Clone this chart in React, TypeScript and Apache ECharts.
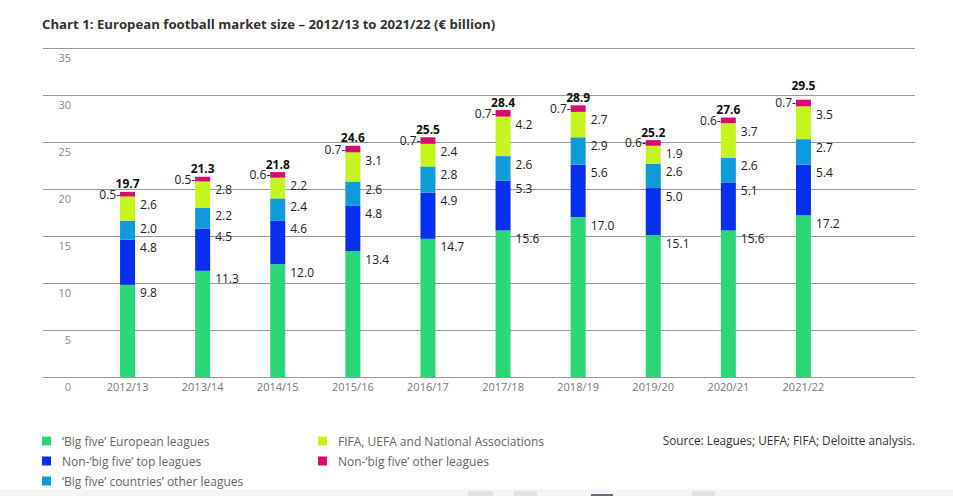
import React, { useEffect, useRef } from "react";
import * as echarts from "echarts";

const categories = ["2012/13", "2013/14", "2014/15", "2015/16", "2016/17", "2017/18", "2018/19", "2019/20", "2020/21", "2021/22"];
const bigFive = [9.8, 11.3, 12.0, 13.4, 14.7, 15.6, 17.0, 15.1, 15.6, 17.2];
const nonBigFiveTop = [4.8, 4.5, 4.6, 4.8, 4.9, 5.3, 5.6, 5.0, 5.1, 5.4];
const bigFiveOther = [2.0, 2.2, 2.4, 2.6, 2.8, 2.6, 2.9, 2.6, 2.6, 2.7];
const fifaUefa = [2.6, 2.8, 2.2, 3.1, 2.4, 4.2, 2.7, 1.9, 3.7, 3.5];
const nonBigFiveOther = [0.5, 0.5, 0.6, 0.7, 0.7, 0.7, 0.7, 0.6, 0.6, 0.7];
const totals = [19.7, 21.3, 21.8, 24.6, 25.5, 28.4, 28.9, 25.2, 27.6, 29.5];
const yMax = 35;
const yInterval = 5;

const seriesNames = [
  "\u2018Big five\u2019 European leagues",
  "Non-\u2018big five\u2019 top leagues",
  "\u2018Big five\u2019 countries\u2019 other leagues",
  "FIFA, UEFA and National Associations",
  "Non-\u2018big five\u2019 other leagues",
];
const colors = ["#2bd677", "#0630ee", "#0f9ad9", "#c6f41f", "#d80a70"];

const FONT = "'Open Sans', sans-serif";

export default function App() {
  const ref = useRef<HTMLDivElement>(null);
  useEffect(() => {
    if (!ref.current) return;
    const chart = echarts.init(ref.current, null, { renderer: "svg" });
    const values = [bigFive, nonBigFiveTop, bigFiveOther, fifaUefa, nonBigFiveOther];
    const segLabel = {
      show: true,
      position: [20, 2],
      align: "left",
      verticalAlign: "top",
      fontFamily: FONT,
      fontSize: 12,
      color: "#222",
      formatter: (p: any) => Number(p.value).toFixed(1),
    };
    const series: any[] = values.map((arr, i) => ({
      name: seriesNames[i],
      type: "bar",
      stack: "total",
      xAxisIndex: 1,
      yAxisIndex: 1,
      barWidth: 15,
      data: arr,
      itemStyle: { color: colors[i] },
      label:
        i === 4
          ? {
              show: true,
              position: "left",
              distance: 0,
              fontFamily: FONT,
              fontSize: 12,
              color: "#222",
              formatter: (p: any) => Number(p.value).toFixed(1) + "-",
            }
          : segLabel,
    }));
    series.push({
      name: "total",
      type: "bar",
      stack: "total",
      xAxisIndex: 1,
      yAxisIndex: 1,
      barWidth: 15,
      data: totals.map((_, i) => (i === totals.length - 1 ? { value: 0, label: { offset: [0, -6] } } : 0)),
      itemStyle: { color: "transparent" },
      label: {
        show: true,
        position: "top",
        distance: 2,
        fontFamily: FONT,
        fontSize: 12,
        fontWeight: "bold",
        color: "#111",
        formatter: (p: any) => totals[p.dataIndex].toFixed(1),
      },
    });

    const legendBase = {
      orient: "vertical",
      padding: 0,
      height: 70,
      itemWidth: 9,
      itemHeight: 9,
      itemGap: 8,
      icon: "rect",
      textStyle: { fontFamily: FONT, fontSize: 12, lineHeight: 12, color: "#666", padding: [0, 0, 0, 6] },
    };

    chart.setOption({
      animation: false,
      textStyle: { fontFamily: FONT },
      title: {
        text: "Chart 1: European football market size \u2013 2012/13 to 2021/22 (\u20ac billion)",
        left: 37,
        top: 12,
        textStyle: { fontFamily: FONT, fontSize: 13.2, fontWeight: "bold", color: "#333" },
      },
      grid: [
        { left: 43, right: 38, top: 48, bottom: 119 },
        { left: 90, right: 112, top: 48, bottom: 119 },
      ],
      xAxis: [
        { type: "value", gridIndex: 0, show: false },
        {
          type: "category",
          gridIndex: 1,
          data: categories,
          axisLine: { show: false },
          axisTick: { show: false },
          axisLabel: { fontFamily: FONT, fontSize: 11, color: "#777", margin: 4 },
        },
      ],
      yAxis: [
        {
          type: "value",
          gridIndex: 0,
          min: 0,
          max: yMax,
          interval: yInterval,
          axisLine: { show: false },
          axisTick: { show: false },
          splitLine: { lineStyle: { color: "#999", width: 1 } },
          axisLabel: {
            fontFamily: FONT,
            fontSize: 11,
            color: "#888",
            align: "right",
            verticalAlign: "top",
            margin: -28,
            padding: [4, 0, 0, 0],
          },
        },
        { type: "value", gridIndex: 1, min: 0, max: yMax, interval: yInterval, show: false },
      ],
      legend: [
        { ...legendBase, left: 42, top: 435, data: seriesNames.slice(0, 3) },
        { ...legendBase, left: 318, top: 435, data: seriesNames.slice(3, 5) },
      ],
      graphic: [
        {
          type: "text",
          right: 38,
          top: 434,
          style: { text: "Source: Leagues; UEFA; FIFA; Deloitte analysis.", fontFamily: FONT, fontSize: 11.8, fill: "#333" },
        },
        { type: "rect", left: 0, top: 489, shape: { width: 953, height: 7 }, style: { fill: "#f5f5f7" } },
        { type: "rect", left: 468, top: 491, shape: { width: 25, height: 5 }, style: { fill: "#e2e2e6" } },
        { type: "rect", left: 514, top: 491, shape: { width: 23, height: 5 }, style: { fill: "#e2e2e6" } },
        { type: "rect", left: 591, top: 494, shape: { width: 22, height: 2 }, style: { fill: "#6a6a78" } },
        { type: "rect", left: 692, top: 491, shape: { width: 23, height: 5 }, style: { fill: "#e2e2e6" } },
      ],
      series,
    });
    return () => chart.dispose();
  }, []);
  return <div ref={ref} style={{ position: "fixed", left: 0, top: 0, width: 953, height: 496, background: "#fff" }} />;
}
